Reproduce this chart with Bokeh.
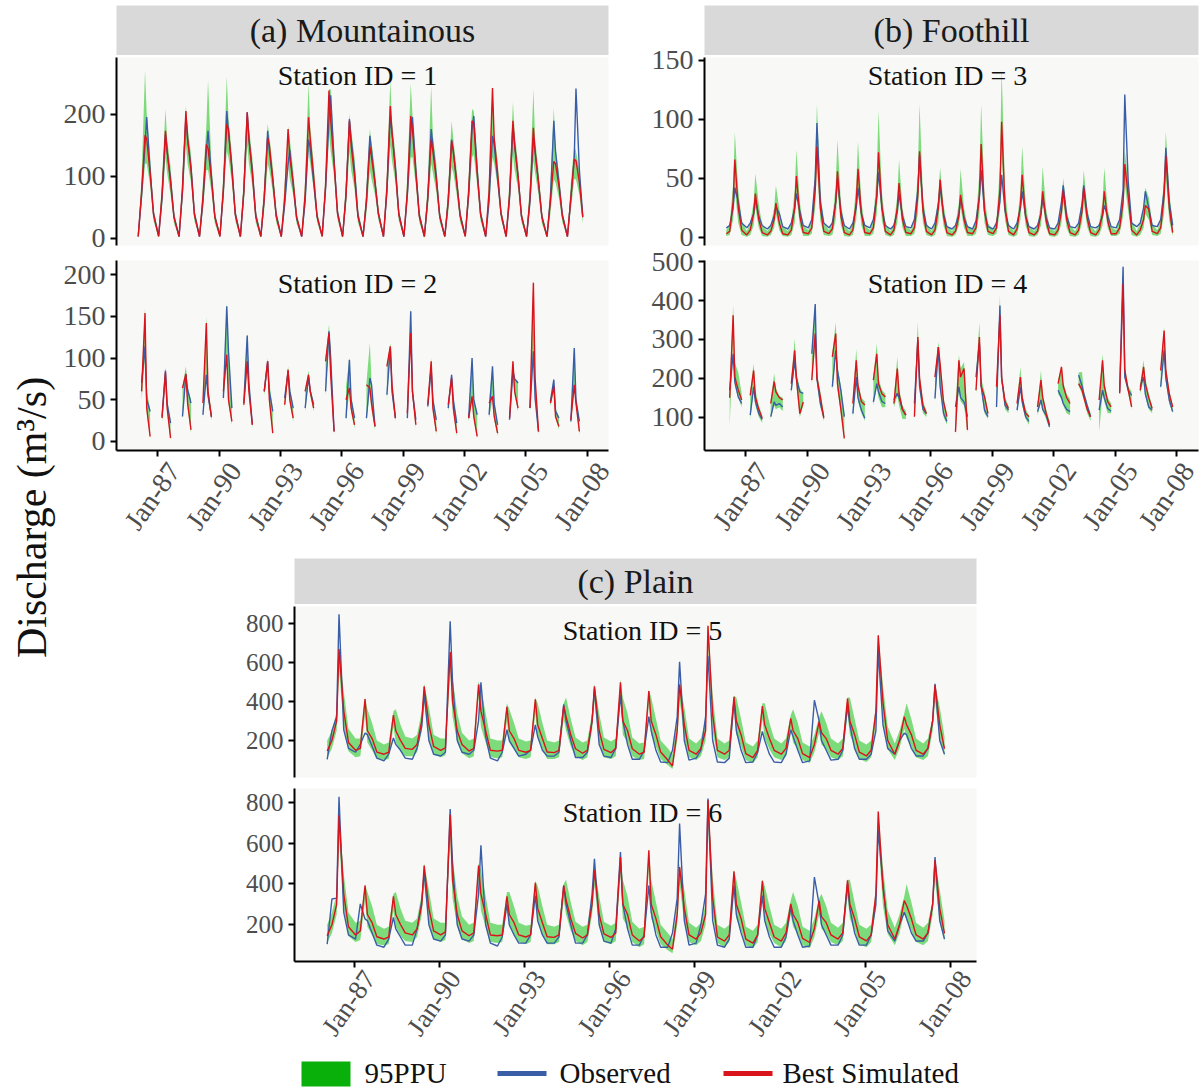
import math
import numpy as np
from bokeh.plotting import figure
from bokeh.layouts import row, column
from bokeh.models import FixedTicker, Range1d, Label, LinearAxis
from bokeh.embed import file_html
from bokeh.resources import INLINE
from bokeh.core.properties import value

N = None
YEARS = list(range(1986, 2008))
SAMPLE_MONTHS = [0, 2, 4, 5, 7, 9]          # Jan, Mar, May, Jun, Aug, Oct
X_TICKS = [1987, 1990, 1993, 1996, 1999, 2002, 2005, 2008]
X_TICK_LABELS = ["Jan-87", "Jan-90", "Jan-93", "Jan-96", "Jan-99", "Jan-02", "Jan-05", "Jan-08"]
REGION_TITLES = ["(a) Mountainous", "(b) Foothill", "(c) Plain"]
STATION_IDS = [1, 2, 3, 4, 5, 6]
LEGEND_LABELS = ["95PPU", "Observed", "Best Simulated"]
Y_LABEL = "Discharge (m\u00b3/s)"

# ---------------- Station 1 (Mountainous) ----------------
s1_obs = [[3,70,150,195,110,40],[4,65,167,140,95,35],[3,75,197,160,115,40],[3,60,140,173,100,35],
          [4,75,205,170,115,40],[3,75,203,160,110,38],[3,65,173,140,95,38],[3,55,120,143,85,32],
          [3,60,159,145,90,35],[4,80,190,230,125,42],[3,70,192,160,110,38],[3,60,165,140,90,40],
          [3,75,197,170,115,40],[3,70,170,195,110,38],[3,65,176,150,100,36],[3,60,159,140,90,38],
          [4,70,175,197,110,40],[3,60,165,150,95,40],[3,65,181,150,100,36],[3,60,162,140,90,35],
          [3,65,189,140,90,38],[3,65,130,241,110,35]]
s1_sim = [[3,75,166,160,105,38],[3,70,173,140,90,34],[3,80,205,160,110,38],[3,65,151,145,95,34],
          [3,80,184,175,110,38],[3,75,203,160,105,35],[3,65,162,150,95,36],[3,65,176,130,90,34],
          [3,70,195,160,100,36],[3,85,238,190,120,40],[3,70,189,150,100,35],[3,60,148,130,90,40],
          [3,80,213,170,110,38],[3,75,197,175,105,36],[3,65,159,140,95,36],[3,60,157,140,90,36],
          [3,75,189,185,105,38],[3,75,242,160,105,40],[3,70,189,150,100,36],[3,65,178,140,90,34],
          [3,60,124,120,85,36],[3,65,127,125,90,34]]
s1_hi = [[5,100,270,200,130,48],[5,95,208,160,115,43],[5,105,213,180,135,48],[5,90,180,254,120,43],
         [5,105,260,195,135,48],[5,100,205,180,130,46],[5,90,184,165,115,46],[5,90,180,160,110,42],
         [5,95,249,180,120,44],[5,110,240,240,145,50],[5,95,200,175,130,46],[5,85,176,155,110,48],
         [5,105,254,190,135,48],[5,100,249,200,130,46],[5,90,246,165,120,44],[5,85,189,160,110,46],
         [5,100,208,205,130,48],[5,100,245,170,125,48],[5,95,219,170,120,44],[5,90,240,160,110,43],
         [5,85,210,145,105,44],[5,90,150,140,110,42]]
s1_lo = [[1,55,120,120,85,28],[1,50,130,105,70,24],[1,60,150,120,90,28],[1,45,110,110,75,24],
         [1,60,140,130,90,28],[1,55,150,120,85,25],[1,45,120,110,75,26],[1,45,120,95,70,24],
         [1,50,140,120,80,26],[1,65,170,140,100,30],[1,50,140,110,80,25],[1,40,110,95,70,30],
         [1,60,150,125,90,28],[1,55,130,130,85,26],[1,45,120,105,75,26],[1,40,115,105,70,26],
         [1,55,130,135,85,28],[1,55,130,120,85,30],[1,50,135,110,80,26],[1,45,125,105,70,24],
         [1,40,95,90,65,26],[1,45,95,95,70,24]]

# ---------------- Station 2 (Mountainous, gaps) ----------------
s2_obs = [[N,70,114,50,36,N],[N,30,85,45,22,N],[N,30,80,62,46,N],[N,32,80,55,30,N],
          [N,52,162,108,40,N],[N,46,127,70,20,N],[N,60,96,60,36,N],[N,52,84,60,40,N],
          [N,40,77,60,44,N],[N,60,132,100,12,N],[N,28,98,50,28,N],[N,28,76,68,18,N],
          [N,56,112,60,28,N],[N,28,156,60,26,N],[N,42,88,50,26,N],[N,40,80,50,22,N],
          [N,28,100,50,32,N],[N,32,90,45,20,N],[N,26,84,75,70,N],[N,40,108,52,12,N],
          [N,48,74,36,28,N],[N,24,112,50,24,N]]
s2_sim = [[N,60,154,40,6,N],[N,28,83,40,4,N],[N,64,81,46,14,N],[N,46,142,60,29,N],
          [N,60,104,50,24,N],[N,44,96,60,20,N],[N,60,96,50,10,N],[N,44,86,50,28,N],
          [N,60,80,60,40,N],[N,96,130,80,12,N],[N,50,64,40,20,N],[N,68,64,45,18,N],
          [N,90,114,68,28,N],[N,34,130,60,20,N],[N,44,96,40,12,N],[N,44,76,40,10,N],
          [N,28,54,30,6,N],[N,46,54,30,10,N],[N,28,96,60,40,N],[N,40,190,76,12,N],
          [N,46,66,30,18,N],[N,26,68,46,12,N]]
s2_hi = [[N,75,160,60,40,N],[N,35,90,50,26,N],[N,66,90,66,50,N],[N,50,150,65,35,N],
         [N,65,165,112,45,N],[N,50,130,75,25,N],[N,65,100,70,40,N],[N,55,90,65,42,N],
         [N,62,85,65,48,N],[N,100,140,112,18,N],[N,66,100,55,30,N],[N,70,118,70,22,N],
         [N,92,118,70,32,N],[N,36,160,65,28,N],[N,48,100,55,28,N],[N,46,82,52,25,N],
         [N,32,100,52,34,N],[N,50,90,48,22,N],[N,30,98,76,72,N],[N,45,195,80,16,N],
         [N,50,76,40,30,N],[N,28,115,52,26,N]]
s2_lo = [[N,50,100,35,4,N],[N,24,75,35,2,N],[N,28,72,40,10,N],[N,28,75,50,25,N],
         [N,48,95,45,20,N],[N,40,88,55,16,N],[N,55,88,45,8,N],[N,40,78,45,24,N],
         [N,36,72,55,36,N],[N,55,120,75,8,N],[N,25,60,35,16,N],[N,25,60,38,14,N],
         [N,50,105,55,24,N],[N,25,120,52,16,N],[N,38,82,36,8,N],[N,36,70,36,6,N],
         [N,24,50,26,4,N],[N,28,50,26,6,N],[N,24,78,55,36,N],[N,36,100,48,8,N],
         [N,42,60,28,14,N],[N,22,62,42,8,N]]

# ---------------- Station 3 (Foothill) ----------------
s3_obs = [[8,10,25,42,30,12],[8,12,20,32,18,10],[7,10,18,26,20,9],[7,12,25,37,22,10],
          [8,15,50,97,30,12],[8,12,30,50,22,10],[7,12,25,42,20,10],[8,15,35,55,25,10],
          [7,10,22,37,18,9],[8,15,40,70,25,10],[7,12,28,43,20,9],[7,10,20,33,17,9],
          [7,14,35,57,22,9],[7,12,30,53,22,10],[7,12,25,39,18,9],[7,10,20,33,17,8],
          [7,12,30,44,18,9],[8,12,28,44,20,9],[8,10,18,27,18,9],[8,15,40,121,47,12],
          [9,12,25,39,25,10],[9,15,40,76,30,10]]
s3_sim = [[3,5,30,66,25,6],[2,6,20,37,15,4],[2,5,15,29,12,3],[2,6,25,52,18,4],
          [3,8,40,77,25,5],[3,7,30,56,18,4],[2,6,30,58,20,4],[3,8,35,72,25,5],
          [2,6,25,46,15,4],[3,8,35,73,22,5],[2,6,25,49,18,4],[2,5,18,36,15,4],
          [3,8,35,79,22,5],[3,8,40,98,25,5],[2,7,28,53,18,4],[2,5,20,39,14,3],
          [2,6,22,40,15,4],[2,6,22,42,16,4],[2,6,20,39,14,3],[3,8,30,62,35,6],
          [2,6,15,27,24,5],[3,8,35,69,25,4]]
s3_hi = [[6,12,45,89,40,14],[5,12,30,54,28,10],[5,10,25,44,24,9],[5,12,40,74,30,10],
         [6,15,60,113,40,12],[6,14,45,83,30,10],[5,12,45,81,30,10],[6,15,55,107,38,12],
         [5,12,35,66,25,10],[6,15,55,113,35,12],[5,12,35,59,28,10],[5,10,30,58,25,10],
         [6,15,55,113,35,12],[6,15,60,143,40,12],[5,12,40,77,30,10],[5,10,30,60,24,9],
         [5,12,30,50,24,10],[5,12,32,57,25,10],[5,12,30,59,24,9],[6,15,40,74,48,14],
         [5,12,25,42,34,12],[6,15,50,90,38,12]]
s3_lo = [[1,2,15,40,12,2],[0.5,2,10,25,8,1],[0.5,2,8,20,6,1],[0.5,2,12,35,10,1],
         [1,3,25,60,14,2],[1,2,15,40,10,1],[0.5,2,15,40,10,1],[1,3,20,50,14,2],
         [0.5,2,12,32,8,1],[1,3,20,55,12,2],[0.5,2,12,35,10,1],[0.5,2,10,25,8,1],
         [1,3,20,55,12,2],[1,3,22,70,14,2],[0.5,2,15,38,10,1],[0.5,2,10,28,8,1],
         [0.5,2,12,30,8,1],[0.5,2,12,30,9,1],[0.5,2,10,28,8,1],[1,3,18,45,22,2],
         [0.5,2,8,20,15,2],[1,3,20,50,14,1]]

# ---------------- Station 4 (Foothill, gaps) ----------------
s4_obs = [[N,169,263,190,152,135],[N,105,178,140,109,94],[N,101,139,130,135,126],[N,169,246,200,165,161],
          [N,263,391,200,135,101],[N,178,272,220,169,101],[N,109,203,150,118,97],[N,139,186,165,140,135],
          [N,144,161,150,120,105],[N,135,297,180,120,109],[N,148,280,180,110,89],[N,126,178,150,139,101],
          [N,203,289,180,118,101],[N,126,387,200,130,118],[N,118,178,140,101,89],[N,114,144,120,105,75],
          [N,169,150,135,120,114],[N,208,180,161,130,101],[N,118,169,150,122,115],[N,165,487,203,170,156],
          [N,178,203,160,126,118],[N,178,272,200,144,114]]
s4_sim = [[N,150,362,203,170,144],[N,156,220,152,120,97],[N,135,191,165,150,144],[N,186,272,200,109,139],
          [N,195,315,200,152,97],[N,255,315,186,120,45],[N,135,246,180,140,131],[N,195,263,186,160,152],
          [N,135,225,160,120,105],[N,101,306,200,130,109],[N,203,280,238,140,101],[N,62,246,203,225,67],
          [N,169,306,180,152,109],[N,178,362,200,140,122],[N,135,203,150,110,101],[N,126,195,150,110,80],
          [N,186,229,180,150,135],[N,186,170,152,120,101],[N,144,246,180,140,126],[N,161,443,220,170,126],
          [N,169,229,186,150,122],[N,220,323,220,160,126]]
s4_hi = [[N,180,387,240,215,160],[N,165,238,170,130,105],[N,145,212,175,155,150],[N,195,302,215,175,160],
         [N,270,395,215,165,110],[N,265,344,230,180,110],[N,145,276,190,150,140],[N,205,289,200,170,160],
         [N,150,255,175,130,115],[N,145,344,215,140,118],[N,210,293,245,150,110],[N,135,260,225,242,110],
         [N,210,344,200,165,115],[N,185,413,215,150,130],[N,145,229,160,120,105],[N,135,220,160,120,90],
         [N,195,233,190,160,145],[N,215,216,170,135,110],[N,155,263,190,150,135],[N,170,494,230,180,165],
         [N,185,246,200,160,130],[N,225,332,230,170,130]]
s4_lo = [[N,79,300,180,150,125],[N,95,170,130,100,85],[N,95,130,120,125,115],[N,160,235,180,100,130],
         [N,185,290,185,125,90],[N,170,260,170,110,40],[N,100,200,140,110,90],[N,130,180,150,125,125],
         [N,125,155,130,95,95],[N,95,280,170,110,100],[N,140,260,175,100,80],[N,55,170,140,130,60],
         [N,160,280,170,110,95],[N,120,340,190,120,110],[N,110,170,130,95,80],[N,105,140,115,95,70],
         [N,160,145,130,110,105],[N,180,160,145,110,90],[N,62,160,140,110,110],[N,155,420,200,160,120],
         [N,160,195,155,120,110],[N,170,260,190,135,110]]

# ---------------- Station 5 (Plain) ----------------
s5_obs = [[104,250,322,845,255,160],[140,180,238,230,171,110],[96,130,213,180,150,110],[104,160,272,440,200,130],
          [121,140,809,500,200,140],[130,150,300,498,220,110],[96,140,255,200,160,120],[130,150,280,220,150,120],
          [121,140,385,300,200,113],[113,140,300,465,180,120],[113,160,431,300,180,104],[104,150,322,250,150,90],
          [87,150,322,602,200,100],[110,150,322,633,200,90],[87,110,406,250,150,87],[90,140,247,200,130,90],
          [87,130,255,220,150,87],[96,406,300,200,150,100],[104,150,380,280,160,104],[104,130,250,658,280,160],
          [130,200,238,230,160,121],[121,160,300,490,200,130]]
s5_sim = [[146,200,300,668,352,190],[150,160,412,250,210,141],[130,140,330,250,201,160],[155,180,300,477,280,170],
          [150,163,652,400,250,180],[146,160,486,350,250,150],[146,150,372,250,210,150],[140,150,410,280,210,141],
          [138,150,376,322,230,158],[135,150,300,477,250,155],[138,160,498,300,250,158],[130,140,453,300,230,141],
          [100,70,250,486,280,150],[130,160,250,787,330,150],[130,150,423,300,230,133],[113,150,376,280,210,150],
          [130,160,313,250,210,133],[113,180,297,240,210,150],[130,160,414,300,230,141],[121,150,350,738,394,200],
          [130,200,322,280,230,150],[130,160,300,482,280,158]]
s5_hi = [[200,250,350,680,450,260],[210,210,420,360,290,200],[180,190,350,360,280,220],[210,230,350,490,370,230],
         [210,210,660,520,340,240],[200,210,500,470,340,210],[200,200,390,360,290,210],[195,200,420,390,290,200],
         [190,200,390,420,310,215],[190,200,340,490,340,215],[195,210,510,420,340,215],[185,190,460,420,310,200],
         [160,130,300,500,370,210],[185,210,300,790,430,210],[185,200,430,420,310,190],[170,200,390,390,290,210],
         [185,210,330,360,290,190],[170,230,320,350,290,210],[185,210,420,420,310,200],[180,200,370,740,480,270],
         [185,250,340,390,310,210],[185,210,320,490,370,220]]
s5_lo = [[110,160,250,560,280,145],[115,120,330,190,150,105],[100,105,270,190,145,120],[120,140,250,400,210,130],
         [115,125,560,320,190,135],[110,120,420,270,190,115],[110,115,300,190,155,115],[105,115,340,210,155,105],
         [105,115,310,250,170,120],[100,115,250,400,190,115],[105,120,420,230,190,120],[100,105,380,230,170,105],
         [75,55,200,410,210,115],[100,120,200,680,250,115],[100,115,350,230,170,100],[85,115,310,210,155,115],
         [100,120,260,190,155,100],[85,140,240,180,155,115],[100,120,340,230,170,105],[90,115,290,620,300,155],
         [100,160,260,210,170,115],[100,120,250,400,210,120]]

# ---------------- Station 6 (Plain) ----------------
s6_obs = [[105,326,330,826,260,150],[130,302,228,220,160,100],[90,130,236,180,140,100],[100,180,318,457,200,130],
          [120,150,767,500,200,130],[120,150,350,589,200,110],[96,140,302,200,150,110],[110,150,343,220,150,110],
          [110,140,392,300,200,110],[110,150,350,523,200,120],[110,180,556,300,180,100],[100,150,392,260,150,90],
          [90,160,330,695,220,100],[110,200,350,818,220,100],[90,130,392,250,160,90],[90,150,343,220,140,90],
          [90,140,284,220,150,90],[96,433,300,200,150,100],[100,150,400,280,160,100],[100,150,300,664,400,170],
          [120,200,261,230,160,120],[120,160,300,531,220,130]]
s6_sim = [[146,200,300,736,350,190],[150,170,392,250,210,141],[130,140,339,250,201,160],[150,180,300,490,280,170],
          [150,165,738,420,250,170],[146,160,490,350,250,150],[146,150,339,250,210,150],[140,150,405,280,210,141],
          [138,150,392,322,230,158],[135,150,300,466,250,155],[138,160,531,300,250,150],[120,140,564,300,230,141],
          [100,80,250,482,280,150],[130,160,250,810,330,140],[120,150,461,300,230,130],[110,150,415,280,210,140],
          [120,160,302,250,210,133],[113,180,318,240,210,150],[130,160,418,300,230,141],[121,150,350,754,380,200],
          [130,200,318,294,230,150],[130,160,300,515,280,158]]
s6_hi = [[200,260,350,740,450,260],[210,220,400,360,290,200],[180,190,350,360,280,220],[210,230,350,500,370,230],
         [210,210,740,530,340,240],[200,210,500,470,340,210],[200,200,360,360,290,210],[195,200,415,390,290,200],
         [190,200,400,420,310,215],[190,200,340,480,340,215],[195,210,540,420,340,215],[180,190,570,420,310,200],
         [160,130,300,500,370,210],[185,210,300,810,430,200],[180,200,470,420,310,190],[170,200,420,390,290,200],
         [180,210,320,360,290,190],[170,230,330,350,290,210],[185,210,420,420,310,200],[180,200,370,755,480,270],
         [185,250,340,400,310,210],[185,210,320,520,370,220]]
s6_lo = [[110,160,250,620,280,145],[115,125,320,190,150,105],[100,105,270,190,145,120],[115,140,250,410,210,130],
         [115,125,620,330,190,130],[110,120,420,270,190,115],[110,115,280,190,155,115],[105,115,330,210,155,105],
         [105,115,320,250,170,120],[100,115,250,390,190,115],[105,120,450,230,190,115],[90,105,470,230,170,105],
         [75,60,200,400,210,115],[100,120,200,690,250,110],[90,115,380,230,170,100],[85,115,340,210,155,110],
         [90,120,250,190,155,100],[85,140,250,180,155,115],[100,120,340,230,170,105],[90,115,290,630,290,155],
         [100,160,260,220,170,115],[100,120,250,420,210,120]]

# ---------------- styling ----------------
FONT = "Liberation Serif"
PANEL_BG = "#F8F8F6"
STRIP_BG = "#D9D9D9"
C_BAND = "#00BE00"
C_LEG_BAND = "#0AB00A"
C_OBS = "#3A5DA8"
C_SIM = "#D9141C"
TICK_COL = "#4D4D4D"
LABEL_ANGLE = math.radians(55)


def flat(rows):
    return np.array([np.nan if v is None else float(v) for r in rows for v in r])


T = np.array([y + (m + 0.5) / 12.0 for y in YEARS for m in SAMPLE_MONTHS])


def runs(mask):
    out, start = [], None
    for i, ok in enumerate(mask):
        if ok and start is None:
            start = i
        if not ok and start is not None:
            out.append((start, i)); start = None
    if start is not None:
        out.append((start, len(mask)))
    return out


def style_axis(ax, fs):
    ax.axis_line_width = 2
    ax.axis_line_color = "black"
    ax.major_tick_line_width = 2
    ax.major_tick_line_color = "black"
    ax.major_tick_out = 6
    ax.major_tick_in = 0
    ax.minor_tick_line_color = None
    ax.major_label_text_font = FONT
    ax.major_label_text_font_size = f"{fs}px"
    ax.major_label_text_color = TICK_COL
    ax.major_label_standoff = 5


def station_fig(obs, sim, lo, hi, sid, xr, yr, yticks, fw, fh, bl, br, bt, bb,
                show_x, yfs, xfs, txt_dx, txt_down, lab_dx, lab_standoff=9, top_margin=0):
    obs, sim, lo, hi = flat(obs), flat(sim), flat(lo), flat(hi)
    p = figure(frame_width=fw, frame_height=fh,
               x_range=Range1d(*xr), y_range=Range1d(*yr),
               output_backend="svg", toolbar_location=None,
               min_border_left=bl, min_border_right=br,
               min_border_top=bt, min_border_bottom=bb,
               x_axis_location="below" if show_x else None,
               y_axis_location="left",
               background_fill_color=PANEL_BG, border_fill_color=None,
               outline_line_color=None, margin=(top_margin, 0, 0, 0))
    p.grid.visible = False
    mask = ~(np.isnan(lo) | np.isnan(hi))
    for a, b in runs(mask):
        p.varea(x=T[a:b], y1=lo[a:b], y2=hi[a:b], fill_color=C_BAND, fill_alpha=0.5)
    p.line(T, obs, line_color=C_OBS, line_width=1.4)
    p.line(T, sim, line_color=C_SIM, line_width=1.4)

    ya = p.yaxis[0]
    style_axis(ya, yfs)
    ya.ticker = FixedTicker(ticks=yticks)

    x0, x1 = xr
    y0, y1 = yr
    if show_x:
        # tick marks on the main axis, labels on a shifted companion axis (ggplot hjust/vjust look)
        xa = p.xaxis[0]
        style_axis(xa, xfs)
        xa.ticker = FixedTicker(ticks=X_TICKS)
        xa.major_label_overrides = {t: "" for t in X_TICKS}
        xa.major_label_text_font_size = "0px"
        xa.major_label_standoff = 0
        shift = lab_dx * (x1 - x0) / fw
        p.extra_x_ranges = {"lab": Range1d(x0 - shift, x1 - shift)}
        la = LinearAxis(x_range_name="lab", ticker=FixedTicker(ticks=X_TICKS))
        style_axis(la, xfs)
        la.axis_line_color = None
        la.major_tick_line_color = None
        la.major_tick_out = 0
        la.major_label_standoff = lab_standoff
        la.major_label_overrides = {t: l for t, l in zip(X_TICKS, X_TICK_LABELS)}
        la.major_label_orientation = LABEL_ANGLE
        p.add_layout(la, "below")

    tx = (x0 + x1) / 2 + txt_dx * (x1 - x0) / fw
    ty = y1 - txt_down * (y1 - y0) / fh
    p.add_layout(Label(x=tx, y=ty, text=f"Station ID = {sid}", text_align="center",
                       text_baseline="middle", text_font=FONT,
                       text_font_size="28px", text_color="#111111"))
    return p


def header_fig(title, fw, fh, bl, br, bt):
    p = figure(frame_width=fw, frame_height=fh, x_range=Range1d(0, 1), y_range=Range1d(0, 1),
               x_axis_location=None, y_axis_location=None, output_backend="svg",
               toolbar_location=None, min_border_left=bl, min_border_right=br,
               min_border_top=bt, min_border_bottom=0,
               background_fill_color=STRIP_BG, border_fill_color=None,
               outline_line_color=None)
    p.grid.visible = False
    p.add_layout(Label(x=0.5, y=0.5, text=title, text_align="center", text_baseline="middle",
                       text_font=FONT, text_font_size="34px", text_color="#1A1A1A"))
    return p


XR_AB = (1984.98, 2009.05)
XR_C = (1984.89, 2008.92)
LEFT_W = 58
P6_BOTTOM = 93
LEG_H = 1089 - 548 - 56 - 178 - (6 + 173 + P6_BOTTOM)

# Column A (Mountainous): header 0..55, station 1 frame 57..245, station 2 frame 260..450
hA = header_fig(REGION_TITLES[0], 492, 50, 116 - LEFT_W, 12, 5)
p1 = station_fig(s1_obs, s1_sim, s1_lo, s1_hi, STATION_IDS[0], XR_AB, (-11.5, 291), [0, 100, 200],
                 492, 188, 116 - LEFT_W, 12, 2, 9, False, 28, 28, -5, 18, 16)
p2 = station_fig(s2_obs, s2_sim, s2_lo, s2_hi, STATION_IDS[1], XR_AB, (-10.8, 216.8), [0, 50, 100, 150, 200],
                 492, 190, 116 - LEFT_W, 12, 6, 98, True, 28, 28, -5, 23, 16)
# Column B (Foothill): figures overlap slightly (transparent borders) so edge tick labels fit
hB = header_fig(REGION_TITLES[1], 494, 50, 84, 2, 5)
p3 = station_fig(s3_obs, s3_sim, s3_lo, s3_hi, STATION_IDS[2], XR_AB, (-7.0, 152.5), [0, 50, 100, 150],
                 494, 188, 84, 2, 14, 9, False, 28, 28, -4, 18, 16, top_margin=-12)
p4 = station_fig(s4_obs, s4_sim, s4_lo, s4_hi, STATION_IDS[3], XR_AB, (14, 503), [100, 200, 300, 400, 500],
                 494, 190, 84, 2, 16, 98, True, 28, 28, -4, 23, 16, top_margin=-10)
# Column C (Plain)
hC = header_fig(REGION_TITLES[2], 682, 46, 294 - LEFT_W, 224, 10)
p5 = station_fig(s5_obs, s5_sim, s5_lo, s5_hi, STATION_IDS[4], XR_C, (11, 885), [200, 400, 600, 800],
                 682, 171, 294 - LEFT_W, 224, 2, 5, False, 25, 27, 7, 23.5, 15)
p6 = station_fig(s6_obs, s6_sim, s6_lo, s6_hi, STATION_IDS[5], XR_C, (20, 867), [200, 400, 600, 800],
                 682, 173, 294 - LEFT_W, 224, 6, P6_BOTTOM, True, 25, 27, 7, 23.5, 15, lab_standoff=6)

# Y-axis title
ylab = figure(frame_width=LEFT_W, frame_height=1089, x_range=Range1d(0, LEFT_W), y_range=Range1d(0, 1089),
              x_axis_location=None, y_axis_location=None, output_backend="svg", toolbar_location=None,
              min_border=0, outline_line_color=None, background_fill_color="white",
              border_fill_color="white")
ylab.grid.visible = False
ylab.add_layout(Label(x=31, y=1089 - 517, text=Y_LABEL, angle=math.pi / 2, text_align="center",
                      text_baseline="middle", text_font=FONT, text_font_size="42px",
                      text_color="#111111"))

# Legend strip (page-pixel coordinates: y = 1089 - page_y)
leg = figure(frame_width=1200 - LEFT_W, frame_height=LEG_H, x_range=Range1d(LEFT_W, 1200),
             y_range=Range1d(0, LEG_H),
             x_axis_location=None, y_axis_location=None, output_backend="svg", toolbar_location=None,
             min_border=0, outline_line_color=None, background_fill_color="white",
             border_fill_color="white")
leg.grid.visible = False
leg.quad(left=[301], right=[350], bottom=[3], top=[28], fill_color=C_LEG_BAND, line_color=None)
leg.line(x=[497, 546], y=[16, 16], line_color=C_OBS, line_width=5)
leg.line(x=[723, 772], y=[16, 16], line_color=C_SIM, line_width=5)
leg.text(x=[364, 559, 782], y=[17, 17, 17], text=LEGEND_LABELS, text_font=value(FONT),
         text_font_size="29px", text_baseline="middle", text_align="left",
         text_color="#111111")

colA = column(hA, p1, p2)
colB = column(hB, p3, p4)
colC = column(hC, p5, p6)
right = column(row(colA, colB), colC, leg)
page = row(ylab, right)

with open("out.html", "w") as f:
    f.write(file_html(page, INLINE))
